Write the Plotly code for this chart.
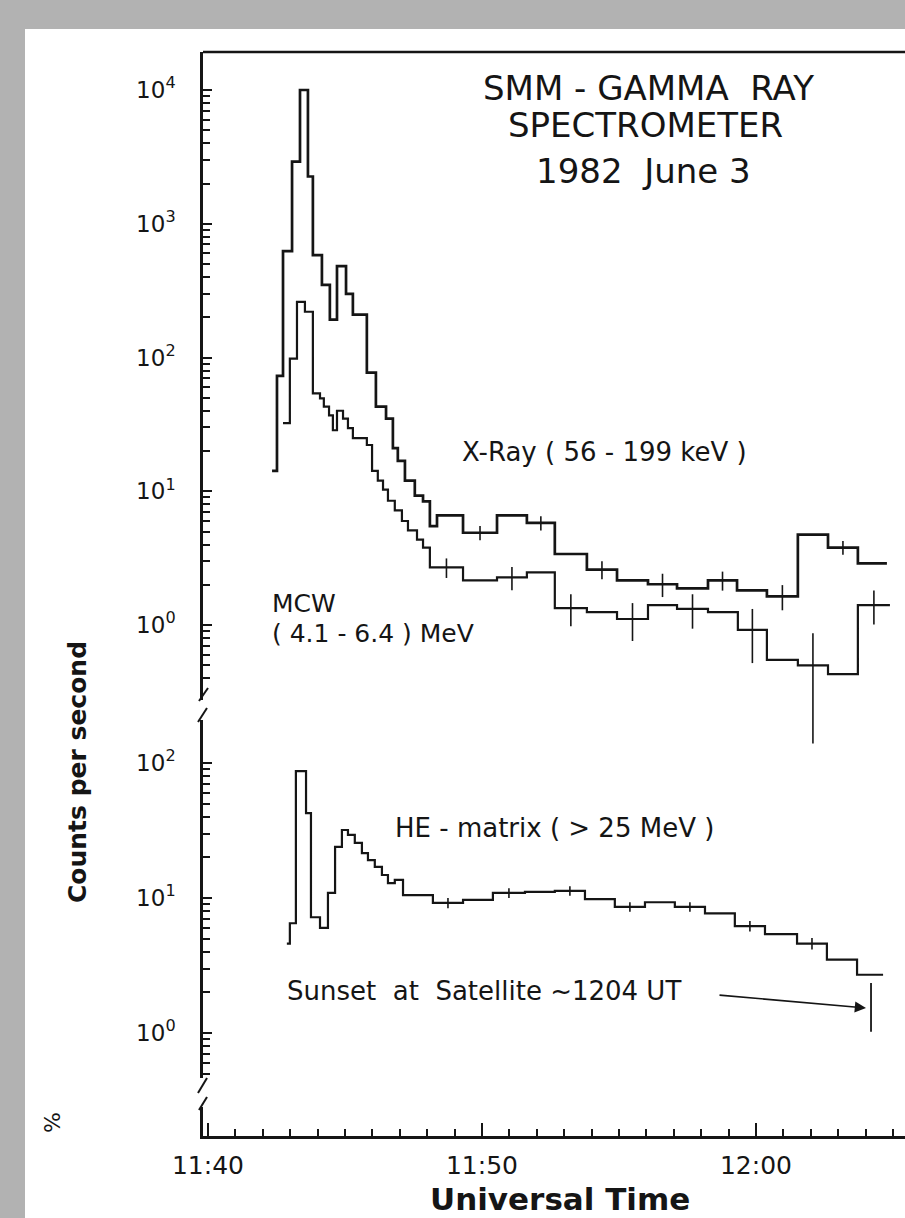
import plotly.graph_objects as go

# ---------------- data (time in minutes after 11:40 UT) ----------------
time_tick_vals = [0, 5, 10, 15, 20, 25]
time_tick_text = ["11:40", "", "11:50", "", "12:00", ""]
time_minor_vals = list(range(0, 26))

# X-Ray (56-199 keV): bin edges (min) and counts/s
xray_edges = [2.34, 2.52, 2.74, 3.07, 3.36, 3.65, 3.83, 4.16, 4.45, 4.71, 5.04, 5.29,
              5.80, 6.13, 6.50, 6.75, 6.93, 7.19, 7.55, 7.85, 8.10, 8.36, 9.31, 10.55,
              11.64, 12.66, 13.83, 14.93, 16.06, 17.12, 18.25, 19.31, 20.40, 21.53,
              22.63, 23.72, 24.78]
xray_counts = [14.2, 73, 625, 2915, 10000, 2255, 583, 349, 192, 483, 299, 209,
               77, 43, 35, 21, 16.9, 12.0, 9.3, 8.4, 5.5, 6.6, 4.9, 6.6,
               5.8, 3.4, 2.6, 2.16, 2.02, 1.88, 2.16, 1.82, 1.64, 4.75, 3.8, 2.89]
xray_sigma = [0] * 22 + [0.6, 0, 0.7, 0, 0.4, 0, 0.4, 0, 0.35, 0, 0.35, 0, 0.45, 0]

# MCW (4.1-6.4 MeV)
mcw_edges = [2.74, 2.99, 3.25, 3.54, 3.83, 4.09, 4.23, 4.42, 4.56, 4.71, 4.93, 5.11,
             5.29, 5.80, 5.99, 6.20, 6.39, 6.57, 6.82, 7.08, 7.30, 7.63, 7.85, 8.10,
             9.31, 10.55, 11.64, 12.66, 13.83, 14.93, 16.06, 17.12, 18.25, 19.34,
             20.40, 21.53, 22.63, 23.72, 24.89]
mcw_counts = [32.3, 98, 261, 220, 54, 49.6, 43, 37, 28.6, 40, 35, 29.7,
              25, 22.2, 14.2, 12.0, 10.3, 8.5, 7.2, 6.0, 5.1, 4.36, 3.8, 2.7,
              2.16, 2.27, 2.48, 1.34, 1.25, 1.11, 1.41, 1.32, 1.25, 0.92, 0.55,
              0.50, 0.43, 1.41]
mcw_sigma = [0] * 23 + [0.45, 0, 0.45, 0, 0.36, 0, 0.35, 0, 0.38, 0, 0.4, 0, 0.37, 0, 0.4]

# HE-matrix (>25 MeV)
he_edges = [2.88, 2.99, 3.21, 3.58, 3.76, 4.09, 4.38, 4.64, 4.89, 5.11, 5.36, 5.62,
            5.84, 6.09, 6.35, 6.57, 6.82, 7.12, 8.21, 9.31, 10.40, 11.57, 12.66,
            13.76, 14.85, 15.95, 17.04, 18.14, 19.23, 20.33, 21.50, 22.59, 23.69, 24.64]
he_counts = [4.6, 6.5, 87, 42.6, 7.2, 6.0, 10.9, 23.9, 31.9, 29.3, 25.6, 21.5,
             19.1, 17.0, 14.8, 12.9, 13.6, 10.5, 9.2, 9.7, 10.9, 11.1, 11.3, 9.8,
             8.6, 9.3, 8.6, 7.7, 6.2, 5.4, 4.6, 3.5, 2.7]
he_sigma = [0] * 18 + [0.8, 0, 0.9, 0, 0.9, 0, 0.7, 0, 0.7, 0, 0.55, 0, 0.45, 0, 0]

# Sunset at satellite (~12:04 UT) marker
sunset_time = [24.2, 24.2]
sunset_bar = [1.02, 2.35]

upper_decades = [1, 10, 100, 1000, 10000]
upper_decade_text = ["10<sup>0</sup>", "10<sup>1</sup>", "10<sup>2</sup>",
                     "10<sup>3</sup>", "10<sup>4</sup>"]
lower_decades = [1, 10, 100]
lower_decade_text = ["10<sup>0</sup>", "10<sup>1</sup>", "10<sup>2</sup>"]

# ---------------- layout geometry ----------------
W, H = 905, 1218
ML, MR, MT, MB = 203, 0, 52, 82
PW, PH = W - ML - MR, H - MT - MB
INK = "#151515"
FONT = "DejaVu Sans"


def px_x(p):
    return (p - ML) / PW


def px_y(p):
    return (H - MB - p) / PH


def step(edges, vals, yaxis, width):
    return go.Scatter(x=edges, y=list(vals) + [vals[-1]], mode="lines",
                      line=dict(shape="hv", color=INK, width=width),
                      yaxis=yaxis, hoverinfo="skip", showlegend=False)


def errs(edges, vals, sig, yaxis):
    xs, ys, es = [], [], []
    for i, s in enumerate(sig):
        if s:
            xs.append((edges[i] + edges[i + 1]) / 2)
            ys.append(vals[i])
            es.append(s)
    return go.Scatter(x=xs, y=ys, mode="markers",
                      marker=dict(size=1, color="rgba(0,0,0,0)"),
                      error_y=dict(type="data", array=es, visible=True, width=0,
                                   thickness=1.6, color=INK),
                      yaxis=yaxis, hoverinfo="skip", showlegend=False)


# upper panel geometry (pixels) and log range
up_top, up_bottom, low_top = MT, 700, 720
up_range = [-0.56, 4.284]
dec_px = (up_bottom - up_top) / (up_range[1] - up_range[0])
err_bottom = 760  # error bars of the upper panel may hang below its frame
err_range = [up_range[0] - (err_bottom - up_bottom) / dec_px, up_range[1]]

fig = go.Figure()
fig.add_trace(step(xray_edges, xray_counts, "y", 2.7))
fig.add_trace(step(mcw_edges, mcw_counts, "y", 2.2))
fig.add_trace(step(he_edges, he_counts, "y2", 2.2))
fig.add_trace(errs(xray_edges, xray_counts, xray_sigma, "y3"))
fig.add_trace(errs(mcw_edges, mcw_counts, mcw_sigma, "y3"))
fig.add_trace(errs(he_edges, he_counts, he_sigma, "y2"))
fig.add_trace(go.Scatter(x=sunset_time, y=sunset_bar, mode="lines",
                         line=dict(color=INK, width=1.8), yaxis="y2",
                         hoverinfo="skip", showlegend=False))

upper_minor = [m * 10 ** k for k in range(-1, 4) for m in range(2, 10) if m * 10 ** k >= 0.4]
lower_minor = [m * 10 ** k for k in range(-1, 2) for m in range(2, 10) if m * 10 ** k >= 0.5]

yfont = dict(family=FONT, size=23, color=INK)
fig.update_layout(
    width=W, height=H,
    margin=dict(l=ML, r=MR, t=MT, b=MB, pad=0),
    paper_bgcolor="#b2b2b2", plot_bgcolor="rgba(0,0,0,0)",
    hovermode=False, showlegend=False,
    xaxis=dict(range=[-0.18, 25.44], anchor="y2",
               tickmode="array", tickvals=time_tick_vals, ticktext=time_tick_text,
               ticks="inside", ticklen=13, tickwidth=1.8, tickcolor=INK,
               minor=dict(tickvals=time_minor_vals, ticks="inside", ticklen=7,
                          tickwidth=1.6, tickcolor=INK),
               showline=True, linecolor=INK, linewidth=3, showgrid=False, zeroline=False,
               tickfont=dict(family=FONT, size=25, color=INK), ticklabelstandoff=5),
    yaxis=dict(type="log", domain=[px_y(up_bottom), 1.0], range=up_range,
               anchor="x", tickmode="array", tickvals=upper_decades,
               ticktext=upper_decade_text, ticks="inside", ticklen=9, tickwidth=1.8,
               tickcolor=INK,
               minor=dict(tickvals=upper_minor, ticks="inside", ticklen=7,
                          tickwidth=1.6, tickcolor=INK),
               showline=True, linecolor=INK, linewidth=2.5, showgrid=False,
               zeroline=False, tickfont=yfont, ticklabelstandoff=20),
    yaxis2=dict(type="log", domain=[0.0, px_y(low_top)],
                range=[-(1136 - 1033) / 135, 2 + (763 - low_top) / 135],
                anchor="x", tickmode="array", tickvals=lower_decades,
                ticktext=lower_decade_text, ticks="inside", ticklen=9, tickwidth=1.8,
                tickcolor=INK,
                minor=dict(tickvals=lower_minor, ticks="inside", ticklen=7,
                           tickwidth=1.6, tickcolor=INK),
                showline=True, linecolor=INK, linewidth=2.5, showgrid=False,
                zeroline=False, tickfont=yfont, ticklabelstandoff=20),
    yaxis3=dict(type="log", domain=[px_y(err_bottom), 1.0], range=err_range,
                anchor="x", visible=False, showgrid=False, zeroline=False),
)

shapes = [
    # white sheet on grey scan background
    dict(type="rect", xref="paper", yref="paper", x0=px_x(25), x1=px_x(W),
         y0=px_y(H), y1=px_y(29), fillcolor="white", line=dict(width=0), layer="below"),
    # top frame line
    dict(type="line", xref="paper", yref="paper", x0=0, x1=1, y0=1, y1=1,
         line=dict(color=INK, width=2.5), layer="above"),
    # gap in lower axis near bottom
    dict(type="rect", xref="paper", yref="paper", x0=px_x(196), x1=px_x(210),
         y0=px_y(1107), y1=px_y(1078), fillcolor="white", line=dict(width=0), layer="above"),
]
for (x0, y0, x1, y1) in [(199, 701, 208, 688), (198, 722, 207, 708),
                         (198, 1093, 207, 1078), (199, 1110, 207, 1097)]:
    shapes.append(dict(type="line", xref="paper", yref="paper", x0=px_x(x0), y0=px_y(y0),
                       x1=px_x(x1), y1=px_y(y1), line=dict(color=INK, width=2), layer="above"))
fig.update_layout(shapes=shapes)

tf = dict(family=FONT, size=34, color=INK)
lf = dict(family=FONT, size=26, color=INK)
ann = [
    dict(text="SMM - GAMMA  RAY", x=px_x(648), y=px_y(88), font=tf),
    dict(text="SPECTROMETER", x=px_x(645), y=px_y(125), font=tf),
    dict(text="1982  June 3", x=px_x(643), y=px_y(171), font=tf),
    dict(text="X-Ray ( 56 - 199 keV )", x=px_x(460), y=px_y(452), font=lf, xanchor="left"),
    dict(text="MCW", x=px_x(270), y=px_y(603), font=dict(family=FONT, size=25, color=INK),
         xanchor="left"),
    dict(text="( 4.1 - 6.4 ) MeV", x=px_x(270), y=px_y(634),
         font=dict(family=FONT, size=25, color=INK), xanchor="left"),
    dict(text="HE - matrix ( > 25 MeV )", x=px_x(393), y=px_y(828), font=lf,
         xanchor="left"),
    dict(text="Sunset  at  Satellite ~1204 UT", x=px_x(285), y=px_y(991), font=lf,
         xanchor="left"),
    dict(text="Counts per second", x=px_x(77), y=px_y(772), textangle=-90,
         font=dict(family=FONT, size=25, color=INK, weight="bold")),
    dict(text="Universal Time", x=px_x(560), y=px_y(1199),
         font=dict(family=FONT, size=31, color=INK, weight="bold")),
    dict(text="%", x=px_x(52), y=px_y(1123), textangle=-90,
         font=dict(family=FONT, size=22, color=INK)),
]
for a in ann:
    a.setdefault("xref", "paper")
    a.setdefault("yref", "paper")
    a.setdefault("showarrow", False)
    a.setdefault("xanchor", "center")
    a.setdefault("yanchor", "middle")
    fig.add_annotation(**a)

# arrow to the sunset marker
fig.add_annotation(xref="paper", yref="paper", x=px_x(866), y=px_y(1008),
                   ax=718 - 866, ay=995 - 1008, axref="pixel", ayref="pixel",
                   text="", showarrow=True, arrowhead=2, arrowsize=1.4,
                   arrowwidth=1.6, arrowcolor=INK)

fig.write_html("out.html")
